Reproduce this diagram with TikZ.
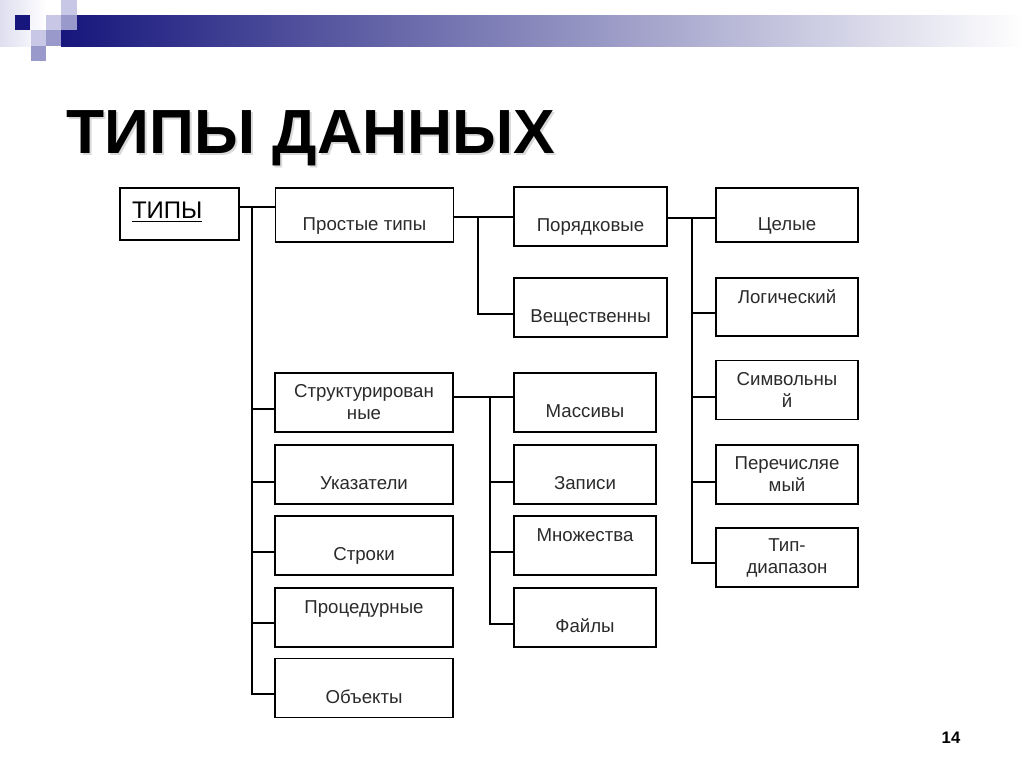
\documentclass[tikz,border=0pt]{standalone}
\usepackage{fontspec}
\setmainfont{Liberation Sans}
\usepackage{tikz}
\usetikzlibrary{positioning,calc}

\definecolor{navy}{HTML}{16167C}
\definecolor{lav}{HTML}{C8C8E6}
\definecolor{lavmid}{HTML}{9999CC}
\definecolor{barmid}{HTML}{B2B2C0}
\definecolor{txtgray}{HTML}{2A2A2A}

\newcommand{\undl}[1]{\setbox0\hbox{#1}\rlap{\rule[-3.3pt]{\wd0}{1.1pt}}\box0}

\tikzset{
  box/.style={draw=black, line width=1.2pt, inner sep=0pt, align=center,
    minimum height=44.25pt, text=txtgray, font=\fontsize{14}{16.5}\selectfont},
  colA/.style={box, minimum width=133.5pt},
  colB/.style={box, minimum width=114.75pt},
  colC/.style={box, minimum width=106.5pt},
  txtlow/.style={text height=24pt, text depth=0.9pt},
  txthigh/.style={text height=9.7pt, text depth=15.1pt},
  conn/.style={line width=1.1pt, black}
}

\begin{document}
\begin{tikzpicture}[x=0.75pt, y=-0.75pt]
    \useasboundingbox (0,0) rectangle (1024,768);
    % corner decoration and bar
    \shade[left color=lav!60, right color=white] (0,0) rectangle (46,46);
    \shade[left color=navy, middle color=barmid, right color=white] (61,15) rectangle (1024,46);
    \fill[navy] (15,15) rectangle (30,30);
    \fill[lav] (46,15) rectangle (61,30);
    \fill[lav] (61,0) rectangle (77,15);
    \fill[lavmid] (61,15) rectangle (77,30);
    \fill[lav] (31,30) rectangle (46,46);
    \fill[lavmid] (46,30) rectangle (61,46);
    \fill[lavmid] (31,46) rectangle (46,61);
    % title
    \node[anchor=base west, text=black!15, font=\fontsize{46.8}{54}\selectfont\bfseries]
      (titleshadow) at (64,155) {ТИПЫ ДАННЫХ};
    \node[anchor=base west, font=\fontsize{46.8}{54}\selectfont\bfseries] (title) at (62,153) {ТИПЫ ДАННЫХ};

    % root
    \node[box, minimum width=89.25pt, minimum height=39pt, inner xsep=9pt, text width=71.25pt,
      align=left, text=black, font=\fontsize{18}{20}\selectfont, text height=16pt, text depth=10pt]
      (tipy) at (179.5,214) {\undl{ТИПЫ}};

    % left column
    \node[colA, minimum height=40.5pt, txtlow] (prost) at (364.5,215) {Простые типы};
    \node[colA] (strukt) at (364,402.5) {Структурирован\\ные};
    \node[colA, txtlow] (ukaz) at (364,474.5) {Указатели};
    \node[colA, txtlow] (stroki) at (364,545.5) {Строки};
    \node[colA, txthigh] (proc) at (364,617.5) {Процедурные};
    \node[colA, txtlow] (obj) at (364,688) {Объекты};

    % simple types
    \node[colB, txtlow] (por) at (590.5,216.5) {Порядковые};
    \node[colB, txtlow] (vesch) at (590.5,307.5) {Вещественны};

    % structured types
    \node[colC, txtlow] (mas) at (585,402.5) {Массивы};
    \node[colC, txtlow] (zap) at (585,474.5) {Записи};
    \node[colC, txthigh] (mnozh) at (585,545.5) {Множества};
    \node[colC, txtlow] (fail) at (585,617.5) {Файлы};

    % ordinal types
    \node[colC, minimum height=40.5pt, txtlow] (cel) at (787,215) {Целые};
    \node[colC, minimum height=43.5pt, txthigh] (logic) at (787,307) {Логический};
    \node[colC] (simv) at (787,390) {Символьны\\й};
    \node[colC] (perech) at (787,474.5) {Перечисляе\\мый};
    \node[colC] (diap) at (787,557.5) {Тип-\\диапазон};

    % trunks
    \coordinate (ta) at (252,207);
    \coordinate (tb) at (252,694);
    \coordinate (pa) at (478,217);
    \coordinate (pb) at (478,314);
    \coordinate (ra) at (692,218);
    \coordinate (rb) at (692,563);
    \coordinate (sa) at (490,397);
    \coordinate (sb) at (490,624);

    \draw[conn] (tipy.east |- ta) -- (prost.west |- ta);
    \draw[conn] (ta) |- (obj.west |- tb);
    \foreach \n/\y in {strukt/409, ukaz/482, stroki/552, proc/623}
      \draw[conn] (252,\y) -- (\n.west |- 252,\y);

    \draw[conn] (prost.east |- pa) -- (por.west |- pa);
    \draw[conn] (pa) |- (vesch.west |- pb);

    \draw[conn] (por.east |- ra) -- (cel.west |- ra);
    \draw[conn] (ra) |- (diap.west |- rb);
    \foreach \n/\y in {logic/313, simv/397, perech/482}
      \draw[conn] (692,\y) -- (\n.west |- 692,\y);

    \draw[conn] (strukt.east |- sa) -- (mas.west |- sa);
    \draw[conn] (sa) |- (fail.west |- sb);
    \foreach \n/\y in {zap/482, mnozh/552}
      \draw[conn] (490,\y) -- (\n.west |- 490,\y);

    % slide number
    \node[anchor=base, font=\fontsize{12.5}{14}\selectfont\bfseries] (pnum) at (951,743) {14};
\end{tikzpicture}
\end{document}
